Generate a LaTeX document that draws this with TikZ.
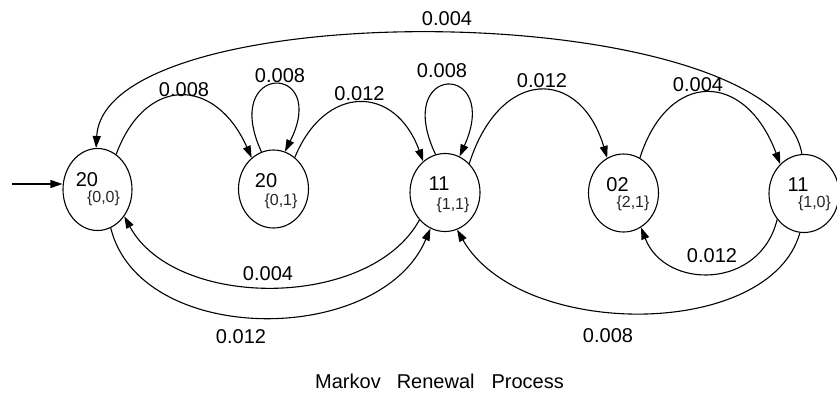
\documentclass[tikz,border=0pt]{standalone}
\usepackage{fontspec}
\setmainfont{Liberation Sans}
\usetikzlibrary{arrows.meta,shapes.geometric}
\begin{document}
\begin{tikzpicture}[x=1pt,y=-1pt,
  state/.style={draw,ellipse,line width=1.1pt,inner sep=0pt,
    minimum width=70pt,minimum height=78pt},
  num/.style={inner sep=0pt,anchor=base,font=\fontsize{20}{24}\selectfont},
  sub/.style={inner sep=0pt,anchor=center,text=black!85,
    font=\fontsize{16}{19}\selectfont},
  prob/.style={inner sep=0pt,anchor=base,font=\fontsize{20}{24}\selectfont},
  edge/.style={line width=1.1pt,-{Triangle[length=12pt,width=8pt]}}]
\useasboundingbox (0,0) rectangle (837,399);

% states
\node[state,minimum width=69pt,minimum height=82pt] (A) at (97.5,189.5) {};
\node[state] (B) at (273.5,189) {};
\node[state] (C) at (445,192.5) {};
\node[state] (D) at (623.5,193) {};
\node[state] (E) at (804,193.5) {};

% state texts
\node[num] (A-n) at (87,186) {20};
\node[sub] (A-s) at (103.5,198.5) {\{0,0\}};
\node[num] (B-n) at (266,187) {20};
\node[sub] (B-s) at (281,201) {\{0,1\}};
\node[num] (C-n) at (439,190) {11};
\node[sub] (C-s) at (453,205.5) {\{1,1\}};
\node[num] (D-n) at (617.5,191) {02};
\node[sub] (D-s) at (633,203.5) {\{2,1\}};
\node[num] (E-n) at (798,191) {11};
\node[sub] (E-s) at (814.5,203.5) {\{1,0\}};

% initial arrow
\coordinate (init) at (12,184);
\draw[edge] (init) -- (init -| A.west);

% transitions above the states
\draw[edge] (E.93) .. controls (775,-4) and (105,-8) .. (A.92);
\draw[edge] (A.62) .. controls (145,76) and (215,76) .. (B.125);
\draw[edge] (B.108) .. controls (220,62) and (330,62) .. (B.73);
\draw[edge] (B.56) .. controls (325,84) and (395,84) .. (C.125);
\draw[edge] (C.104) .. controls (392,62) and (502,62) .. (C.68);
\draw[edge] (C.50) .. controls (500,67) and (580,67) .. (D.115);
\draw[edge] (D.65) .. controls (668,70) and (745,70) .. (E.129);

% transitions below the states
\draw[edge] (E.224) .. controls (760,290) and (665,290) .. (D.297);
\draw[edge] (E.264) .. controls (770,340) and (520,340) .. (C.288);
\draw[edge] (C.227) .. controls (370,310) and (175,310) .. (A.315);
\draw[edge] (A.289) .. controls (140,347) and (380,347) .. (C.248);

% transition probabilities
\node[prob] (p-EA) at (447,25) {0.004};
\node[prob] (p-AB) at (184,96) {0.008};
\node[prob] (p-BB) at (280,82) {0.008};
\node[prob] (p-BC) at (359.5,100) {0.012};
\node[prob] (p-CC) at (442,77) {0.008};
\node[prob] (p-CD) at (542,87) {0.012};
\node[prob] (p-DE) at (698,91) {0.004};
\node[prob] (p-ED) at (712,262) {0.012};
\node[prob] (p-EC) at (608,342) {0.008};
\node[prob] (p-CA) at (268,280) {0.004};
\node[prob] (p-AC) at (241,343) {0.012};

% caption
\node[inner sep=0pt,anchor=base west,font=\fontsize{20}{24}\selectfont] (title)
  at (315,388) {Markov\hspace{16pt}Renewal\hspace{17pt}Process};
\end{tikzpicture}
\end{document}
